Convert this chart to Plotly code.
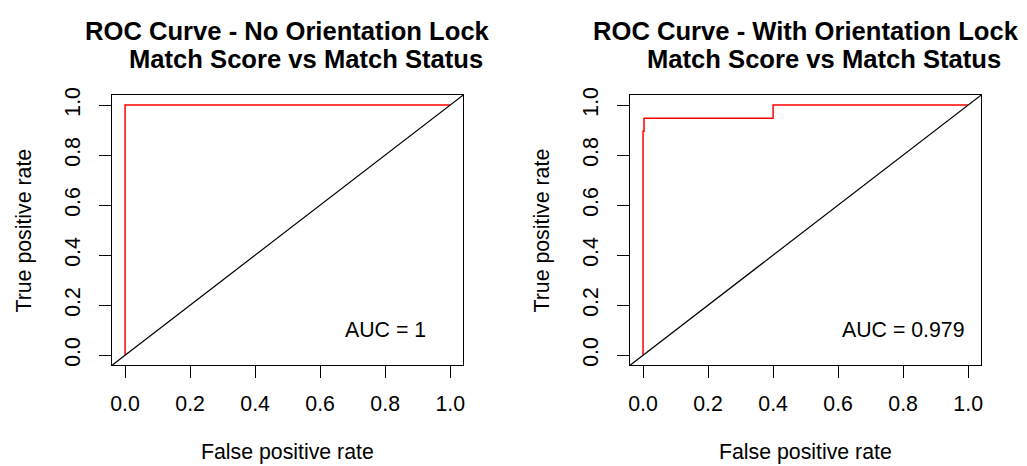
import plotly.graph_objects as go

# ROC curve points (false positive rate, true positive rate)
fpr_no_lock = [0.0, 0.0, 1.0]
tpr_no_lock = [0.0, 1.0, 1.0]
auc_no_lock = "1"

fpr_lock = [0.0, 0.0, 0.003, 0.003, 0.4, 0.4, 1.0]
tpr_lock = [0.0, 0.895, 0.895, 0.947, 0.947, 1.0, 1.0]
auc_lock = "0.979"

panel_titles = [
    ("ROC Curve - No Orientation Lock", "Match Score vs Match Status"),
    ("ROC Curve - With Orientation Lock", "Match Score vs Match Status"),
]
tick_vals = [0.0, 0.2, 0.4, 0.6, 0.8, 1.0]
tick_text = ["0.0", "0.2", "0.4", "0.6", "0.8", "1.0"]
x_label = "False positive rate"
y_label = "True positive rate"

W, H = 1027, 466
FONT = "Liberation Sans, Arial, sans-serif"
BASE = 21.3
TITLE = 25.6
AX_RANGE = [-0.04, 1.04]

x_domains = [[110.5 / W, 463.0 / W], [630.5 / W, 983.0 / W]]
y_domain = [1 - 364.2 / H, 1 - 88.8 / H]

fig = go.Figure()

curves = [(fpr_no_lock, tpr_no_lock, auc_no_lock), (fpr_lock, tpr_lock, auc_lock)]
for i, (fpr, tpr, auc) in enumerate(curves):
    xa = "x" if i == 0 else "x2"
    ya = "y" if i == 0 else "y2"
    fig.add_trace(go.Scatter(x=fpr, y=tpr, mode="lines", xaxis=xa, yaxis=ya,
                             line=dict(color="#ff0000", width=1.5), showlegend=False,
                             hoverinfo="skip"))
    # chance diagonal across the whole plotting region
    fig.add_trace(go.Scatter(x=AX_RANGE, y=AX_RANGE, mode="lines", xaxis=xa, yaxis=ya,
                             line=dict(color="black", width=1.2), showlegend=False,
                             hoverinfo="skip"))
    fig.add_annotation(x=0.8, y=0.1, xref=xa, yref=ya, text=f"AUC = {auc}",
                       showarrow=False, font=dict(family=FONT, size=BASE, color="black"),
                       xanchor="center", yanchor="middle")

axis_common = dict(range=AX_RANGE, tickvals=tick_vals, ticktext=tick_text,
                   ticks="outside", ticklen=12, tickwidth=1, tickcolor="black",
                   showline=True, linecolor="black", linewidth=1, mirror=True,
                   showgrid=False, zeroline=False,
                   tickfont=dict(family=FONT, size=BASE, color="black"))

fig.update_layout(
    width=W, height=H, autosize=False,
    margin=dict(l=0, r=0, t=0, b=0),
    paper_bgcolor="white", plot_bgcolor="white",
    xaxis=dict(domain=x_domains[0], anchor="y", ticklabelstandoff=7, **axis_common),
    yaxis=dict(domain=y_domain, anchor="x", tickangle=-90, ticklabelstandoff=11, **axis_common),
    xaxis2=dict(domain=x_domains[1], anchor="y2", ticklabelstandoff=7, **axis_common),
    yaxis2=dict(domain=y_domain, anchor="x2", tickangle=-90, ticklabelstandoff=11, **axis_common),
)

for i, (line1, line2) in enumerate(panel_titles):
    cx = (x_domains[i][0] + x_domains[i][1]) / 2
    fig.add_annotation(x=cx, y=1 - 23.5 / H, xref="paper", yref="paper", text=f"<b>{line1}</b>",
                       showarrow=False, xanchor="center", yanchor="middle",
                       font=dict(family=FONT, size=TITLE, color="black"))
    fig.add_annotation(x=cx, y=1 - 52.5 / H, xref="paper", yref="paper", text=f"<b>{line2}</b>",
                       showarrow=False, xanchor="center", yanchor="middle", xshift=18,
                       font=dict(family=FONT, size=TITLE, color="black"))
    fig.add_annotation(x=cx, y=1 - 453 / H, xref="paper", yref="paper", text=x_label,
                       showarrow=False, xanchor="center", yanchor="middle",
                       font=dict(family=FONT, size=BASE, color="black"))
    fig.add_annotation(x=(x_domains[i][0] * W - 88) / W, y=(y_domain[0] + y_domain[1]) / 2,
                       xref="paper", yref="paper", text=y_label, textangle=-90,
                       showarrow=False, xanchor="center", yanchor="middle",
                       font=dict(family=FONT, size=BASE, color="black"))

fig.write_html("out.html")
